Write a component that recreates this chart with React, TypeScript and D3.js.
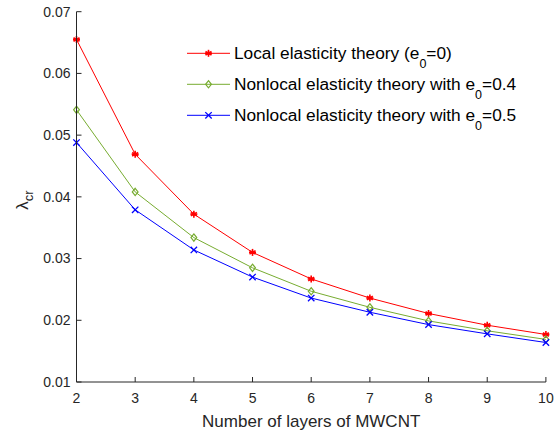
import React from "react";
import * as d3 from "d3";

const layers = [2, 3, 4, 5, 6, 7, 8, 9, 10];
const localE0 = [0.0655, 0.0469, 0.0372, 0.0310, 0.0267, 0.0236, 0.0211, 0.0192, 0.0177];
const nonlocal04 = [0.0541, 0.0408, 0.0334, 0.0285, 0.0247, 0.0221, 0.0199, 0.0183, 0.0169];
const nonlocal05 = [0.0488, 0.0379, 0.0314, 0.0270, 0.0236, 0.0213, 0.0193, 0.0178, 0.0164];
const yTicks = [0.01, 0.02, 0.03, 0.04, 0.05, 0.06, 0.07];
const xTicks = [2, 3, 4, 5, 6, 7, 8, 9, 10];

const FONT = "'Liberation Sans', Arial, sans-serif";
const TXT = "#262626";

type Marker = "star" | "diamond" | "x";

function MarkerShape({ kind, x, y, color }: { kind: Marker; x: number; y: number; color: string }) {
  if (kind === "star") {
    const r = 3.5;
    const lines = [0, 60, 120].map((a) => {
      const rad = (a * Math.PI) / 180;
      return (
        <line
          key={a}
          x1={x - r * Math.sin(rad)}
          y1={y - r * Math.cos(rad)}
          x2={x + r * Math.sin(rad)}
          y2={y + r * Math.cos(rad)}
          stroke={color}
          strokeWidth={1.6}
        />
      );
    });
    return (
      <g>
        <line x1={x - r} y1={y} x2={x + r} y2={y} stroke={color} strokeWidth={1.6} />
        {lines}
        <circle cx={x} cy={y} r={1.8} fill={color} />
      </g>
    );
  }
  if (kind === "diamond") {
    const r = 3.6;
    return (
      <path
        d={`M${x},${y - r}L${x + r * 0.8},${y}L${x},${y + r}L${x - r * 0.8},${y}Z`}
        fill="none"
        stroke={color}
        strokeWidth={1.2}
      />
    );
  }
  const r = 3.2;
  return (
    <g stroke={color} strokeWidth={1.3}>
      <line x1={x - r} y1={y - r} x2={x + r} y2={y + r} />
      <line x1={x - r} y1={y + r} x2={x + r} y2={y - r} />
    </g>
  );
}

const seriesList: { name: string[]; values: number[]; color: string; marker: Marker }[] = [
  { name: ["Local elasticity theory (e", "0", "=0)"], values: localE0, color: "#FF0000", marker: "star" },
  { name: ["Nonlocal elasticity theory with e", "0", "=0.4"], values: nonlocal04, color: "#77AC30", marker: "diamond" },
  { name: ["Nonlocal elasticity theory with e", "0", "=0.5"], values: nonlocal05, color: "#0000FF", marker: "x" },
];

export default function App() {
  const W = 558;
  const H = 432;
  const left = 76.5;
  const right = 545.9;
  const top = 11.7;
  const bottom = 382;

  const x = d3.scaleLinear().domain([2, 10]).range([left, right]);
  const y = d3.scaleLinear().domain([0.01, 0.07]).range([bottom, top]);

  const line = d3
    .line<number>()
    .x((_, i) => x(layers[i]))
    .y((d) => y(d));

  return (
    <svg
      width={W}
      height={H}
      style={{ position: "absolute", left: 0, top: 0, background: "#fff" }}
      fontFamily={FONT}
    >
      <rect width={W} height={H} fill="#fff" />
      {/* series */}
      {seriesList.map((s, si) => (
        <g key={si}>
          <path d={line(s.values) || ""} fill="none" stroke={s.color} strokeWidth={1} />
          {s.values.map((v, i) => (
            <MarkerShape key={i} kind={s.marker} x={x(layers[i])} y={y(v)} color={s.color} />
          ))}
        </g>
      ))}
      {/* axes */}
      <line x1={left} y1={top} x2={left} y2={bottom} stroke={TXT} strokeWidth={1} />
      <line x1={left} y1={bottom} x2={right} y2={bottom} stroke={TXT} strokeWidth={1} />
      {yTicks.map((t) => (
        <g key={t}>
          <line x1={left} x2={left + 5} y1={y(t)} y2={y(t)} stroke={TXT} />
          <text x={left - 6} y={y(t)} dy="0.35em" textAnchor="end" fontSize={14} fill={TXT}>
            {t.toFixed(2)}
          </text>
        </g>
      ))}
      {xTicks.map((t) => (
        <g key={t}>
          <line x1={x(t)} x2={x(t)} y1={bottom} y2={bottom - 5} stroke={TXT} />
          <text x={x(t)} y={403} textAnchor="middle" fontSize={14} fill={TXT}>
            {t}
          </text>
        </g>
      ))}
      <text x={(left + right) / 2} y={427} textAnchor="middle" fontSize={17} fill={TXT}>
        Number of layers of MWCNT
      </text>
      <g transform="translate(28,200) rotate(-90)">
        <text textAnchor="middle" fontSize={17} fill={TXT}>
          λ<tspan fontSize={13} dy={5}>cr</tspan>
        </text>
      </g>
      {/* legend */}
      {seriesList.map((s, i) => {
        const ly = 53.3 + i * 31;
        return (
          <g key={i}>
            <line x1={187} x2={230} y1={ly} y2={ly} stroke={s.color} strokeWidth={1} />
            <MarkerShape kind={s.marker} x={208.5} y={ly} color={s.color} />
            <text x={234} y={ly + 5.5} fontSize={17.3} fill="#000">
              {s.name[0]}
              <tspan fontSize={12.5} dy={9}>
                {s.name[1]}
              </tspan>
              <tspan dy={-9}>{s.name[2]}</tspan>
            </text>
          </g>
        );
      })}
    </svg>
  );
}
